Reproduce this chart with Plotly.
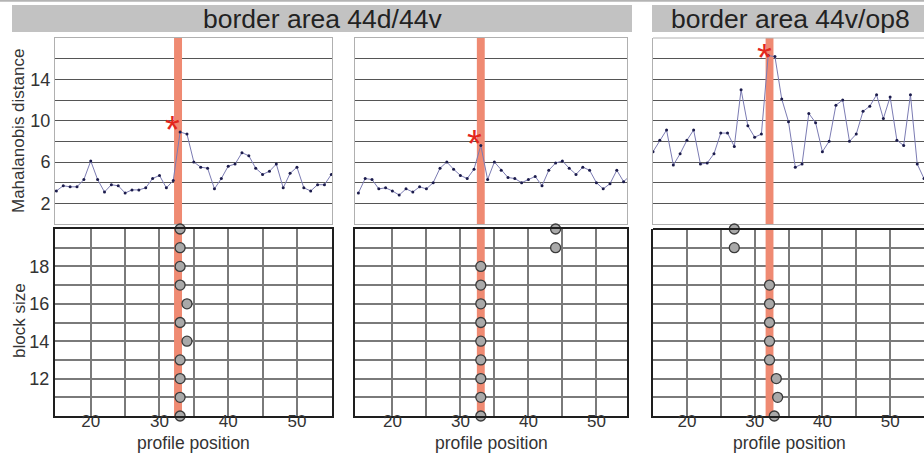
import plotly.graph_objects as go

# ---------------- data ----------------
profile_positions = list(range(15, 56))

maha_44d_44v_left = [3.2, 3.7, 3.6, 3.6, 4.3, 6.1, 4.3, 3.1, 3.8, 3.7,
                     3.0, 3.3, 3.3, 3.5, 4.4, 4.7, 3.5, 4.2, 8.9, 8.7,
                     6.0, 5.5, 5.4, 3.4, 4.4, 5.6, 5.8, 6.9, 6.6, 5.4,
                     4.8, 5.1, 5.8, 3.5, 4.9, 5.5, 3.5, 3.2, 3.8, 3.8, 4.8]

maha_44d_44v_right = [3.0, 4.4, 4.3, 3.4, 3.5, 3.2, 2.8, 3.4, 3.1, 3.6,
                      3.4, 4.0, 5.4, 6.0, 5.3, 4.7, 4.4, 5.3, 7.6, 4.3,
                      6.0, 5.2, 4.5, 4.4, 4.0, 4.3, 4.6, 3.7, 5.2, 5.9,
                      6.1, 5.4, 4.8, 5.5, 5.2, 4.0, 3.4, 3.9, 5.2, 4.1, 4.7]

maha_44v_op8 = [7.0, 8.1, 9.1, 5.7, 6.8, 8.1, 9.1, 5.8, 5.9, 6.8,
                8.8, 8.8, 7.5, 13.0, 9.5, 8.4, 8.7, 16.3, 16.2, 12.1,
                9.9, 5.5, 5.8, 10.7, 9.8, 7.0, 8.0, 11.5, 12.0, 8.0,
                8.7, 10.9, 11.4, 12.5, 10.2, 12.3, 8.1, 7.6, 12.5, 5.8, 4.4]

block_sizes_1 = [10, 11, 12, 13, 14, 15, 16, 17, 18, 19, 20]
border_pos_1 = [33, 33, 33, 33, 34, 33, 34, 33, 33, 33, 33]

block_sizes_2 = [10, 11, 12, 13, 14, 15, 16, 17, 18, 19, 20]
border_pos_2 = [33, 33, 33, 33, 33, 33, 33, 33, 33, 44, 44]

block_sizes_3 = [10, 11, 12, 13, 14, 15, 16, 17, 19, 20]
border_pos_3 = [32.9, 33.4, 33.2, 32.2, 32.2, 32.2, 32.2, 32.2, 27, 27]

band_centers = [32.7, 33.0, 32.2]
band_width = 1.16
star_points = [(31.9, 9.8), (32.1, 8.45), (31.4, 16.7)]

header_titles = ["border area 44d/44v", "border area 44v/op8"]

x_ticks = [20, 25, 30, 35, 40, 45, 50]
x_ticktext = ["20", "", "30", "", "40", "", "50"]
top_ticks = [2, 4, 6, 8, 10, 12, 14, 16]
top_ticktext = ["2", "", "6", "", "10", "", "14", ""]
bot_ticks = [11, 12, 13, 14, 15, 16, 17, 18, 19]
bot_ticktext = ["", "12", "", "14", "", "16", "", "18", ""]
top_range = [0, 18]
bot_range = [10, 20]

# ---------------- layout geometry ----------------
W, H = 924, 459
col_px = [(55, 332), (355, 627), (653, 924)]
x_ranges = [[14.8, 55.1], [14.5, 54.5], [15, 55]]
top_px = (38, 224)
bot_px = (229, 416)


def ydom(px):
    return [1 - px[1] / H, 1 - px[0] / H]


line_series = [maha_44d_44v_left, maha_44d_44v_right, maha_44v_op8]
dot_series = [(block_sizes_1, border_pos_1), (block_sizes_2, border_pos_2),
              (block_sizes_3, border_pos_3)]

fig = go.Figure()
FONT = "Liberation Sans, Arial, sans-serif"
layout = dict(
    width=W, height=H, margin=dict(l=0, r=0, t=0, b=0),
    paper_bgcolor="white", plot_bgcolor="white", showlegend=False,
    font=dict(family=FONT, color="#333333"), barmode="overlay",
)
shapes = []
annotations = []

for i in range(3):
    tx = 2 * i + 1
    bx = 2 * i + 2
    txn = "x" if tx == 1 else f"x{tx}"
    tyn = "y" if tx == 1 else f"y{tx}"
    bxn = f"x{bx}"
    byn = f"y{bx}"
    dom = [col_px[i][0] / W, min(col_px[i][1] / W, 1.0)]
    last = (i == 2)

    # top axes
    layout["xaxis" if tx == 1 else f"xaxis{tx}"] = dict(
        domain=dom, range=x_ranges[i], anchor=tyn, showgrid=False,
        showticklabels=False, zeroline=False, showline=True,
        linecolor="#b0b0b0", linewidth=1, mirror=not last, ticks="")
    layout["yaxis" if tx == 1 else f"yaxis{tx}"] = dict(
        domain=ydom(top_px), range=top_range, anchor=txn,
        tickvals=top_ticks, ticktext=top_ticktext if i == 0 else [""] * len(top_ticks),
        showgrid=True, gridcolor="#555555", gridwidth=1.2, zeroline=False,
        showline=True, linecolor="#b0b0b0", linewidth=1, mirror=not last,
        ticks="", tickfont=dict(size=18, color="#333333"))

    # bottom axes
    layout[f"xaxis{bx}"] = dict(
        domain=dom, range=x_ranges[i], anchor=byn,
        tickvals=x_ticks, ticktext=x_ticktext, showgrid=True,
        gridcolor="#7a7a7a", gridwidth=1.5, zeroline=False, showline=True,
        linecolor="#1e1e1e", linewidth=2, mirror=not last, ticks="",
        ticklabelstandoff=-11,
        tickfont=dict(size=17, color="#333333"))
    layout[f"yaxis{bx}"] = dict(
        domain=ydom(bot_px), range=bot_range, anchor=bxn,
        tickvals=bot_ticks, ticktext=bot_ticktext if i == 0 else [""] * len(bot_ticks),
        showgrid=True, gridcolor="#7a7a7a", gridwidth=1.5, zeroline=False,
        showline=True, linecolor="#1e1e1e", linewidth=2, mirror=not last,
        ticks="", tickfont=dict(size=18, color="#333333"))

    if last:
        shapes.append(dict(type="line", xref="paper", yref="paper",
                           x0=dom[0], x1=1, y0=ydom(bot_px)[1], y1=ydom(bot_px)[1],
                           line=dict(color="#1e1e1e", width=2), layer="above"))
        shapes.append(dict(type="line", xref="paper", yref="paper",
                           x0=dom[0], x1=1, y0=ydom(top_px)[1], y1=ydom(top_px)[1],
                           line=dict(color="#b0b0b0", width=1), layer="above"))

    # red border band (drawn as bars, above grid, below data)
    c = band_centers[i]
    fig.add_trace(go.Bar(x=[c], y=[top_range[1] - top_range[0]], base=[top_range[0]],
                         width=[band_width], xaxis=txn, yaxis=tyn,
                         marker=dict(color="#ef8a72", line=dict(width=0)),
                         hoverinfo="skip"))
    fig.add_trace(go.Bar(x=[c], y=[bot_range[1] - bot_range[0]], base=[bot_range[0]],
                         width=[band_width], xaxis=bxn, yaxis=byn,
                         marker=dict(color="#ef8a72", line=dict(width=0)),
                         hoverinfo="skip"))

    # profile line
    fig.add_trace(go.Scatter(
        x=profile_positions, y=line_series[i], xaxis=txn, yaxis=tyn,
        mode="lines+markers", line=dict(color="#7b7bb3", width=1),
        marker=dict(size=3, color="#1c1c4c"), hoverinfo="skip"))

    # border positions per block size
    bs, bp = dot_series[i]
    fig.add_trace(go.Scatter(
        x=bp, y=bs, xaxis=bxn, yaxis=byn, mode="markers", cliponaxis=False,
        marker=dict(size=10, color="#a9a9a9", line=dict(color="#3a3a3a", width=1.3)),
        hoverinfo="skip"))

    # star
    sx, sy = star_points[i]
    annotations.append(dict(x=sx, y=sy, xref=txn, yref=tyn, text="*",
                            showarrow=False, yanchor="middle", xanchor="center",
                            yshift=-7,
                            font=dict(size=38, color="#e3261c", family=FONT)))

    # x title
    annotations.append(dict(x=(dom[0] + dom[1]) / 2 if not last else (653 + 925) / 2 / W,
                            y=1 - 443 / H, xref="paper", yref="paper",
                            text="profile position", showarrow=False,
                            xanchor="center", yanchor="middle",
                            font=dict(size=17.5, color="#333333", family=FONT)))

# y titles
annotations.append(dict(x=19 / W, y=1 - 131 / H, xref="paper", yref="paper",
                        text="Mahalanobis distance", textangle=-90, showarrow=False,
                        xanchor="center", yanchor="middle",
                        font=dict(size=17, color="#333333", family=FONT)))
annotations.append(dict(x=19 / W, y=1 - 321 / H, xref="paper", yref="paper",
                        text="block size", textangle=-90, showarrow=False,
                        xanchor="center", yanchor="middle",
                        font=dict(size=17, color="#333333", family=FONT)))

# header bars
header_px = [(12, 632), (652, 924)]
for (x0, x1), title in zip(header_px, header_titles):
    shapes.append(dict(type="rect", xref="paper", yref="paper",
                       x0=x0 / W, x1=x1 / W, y0=1 - 32 / H, y1=1 - 5 / H,
                       fillcolor="#c2c2c2", line=dict(width=0), layer="below"))
    annotations.append(dict(x=(x0 + x1) / 2 / W + (0.003 if x1 == 924 else 0),
                            y=1 - 18.5 / H, xref="paper", yref="paper",
                            text=title, showarrow=False, xanchor="center",
                            yanchor="middle",
                            font=dict(size=26.5, color="#222222", family=FONT)))

shapes.append(dict(type="line", xref="paper", yref="paper", x0=0, x1=1,
                   y0=1 - 0.8 / H, y1=1 - 0.8 / H,
                   line=dict(color="#b4b4b4", width=2), layer="below"))

layout["shapes"] = shapes
layout["annotations"] = annotations
fig.update_layout(**layout)

fig.write_html("out.html")
